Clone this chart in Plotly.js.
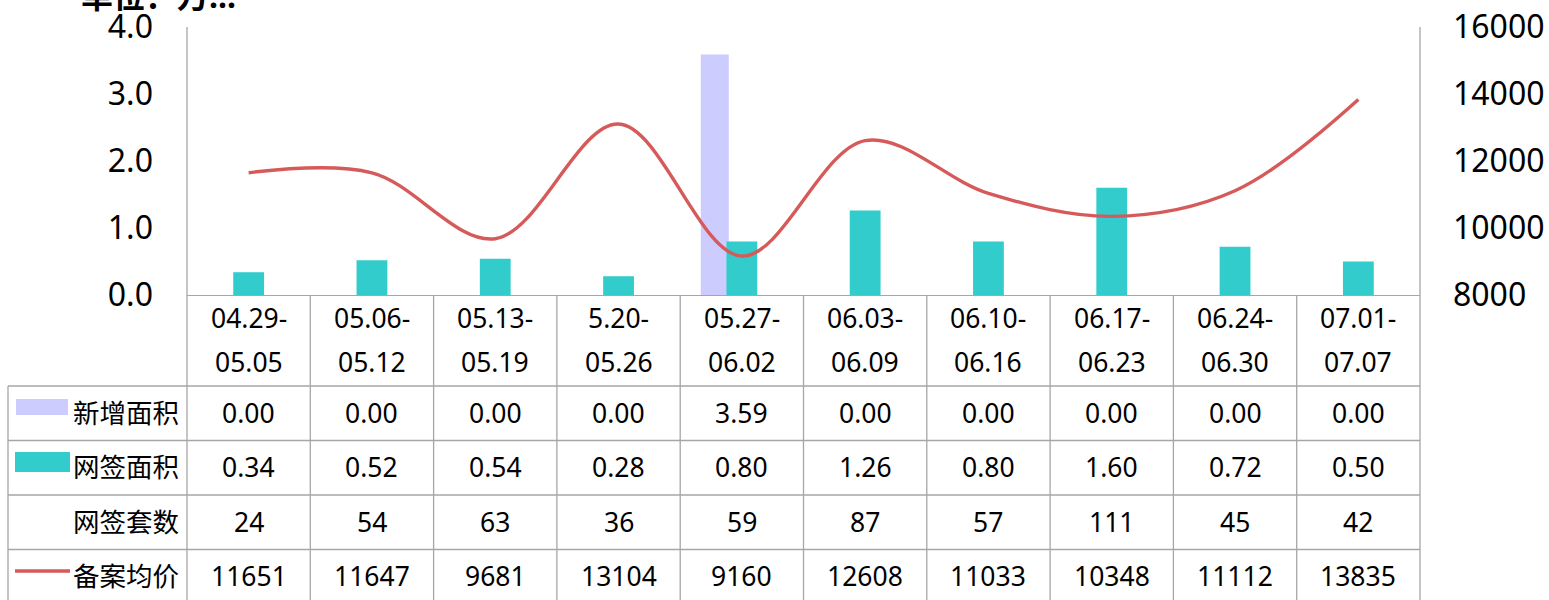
<!DOCTYPE html>
<html>
<head>
<meta charset="utf-8">
<script src="https://cdn.plot.ly/plotly-3.0.1.min.js"></script>
<style>html,body{margin:0;padding:0;background:#fff;}#chart{width:1549px;height:600px;}</style>
</head>
<body>
<div id="chart"></div>
<script>
const categories = ['04.29-05.05','05.06-05.12','05.13-05.19','5.20-05.26','05.27-06.02','06.03-06.09','06.10-06.16','06.17-06.23','06.24-06.30','07.01-07.07'];
const seriesNames = ['新增面积','网签面积','网签套数','备案均价'];
const newArea = [0.00,0.00,0.00,0.00,3.59,0.00,0.00,0.00,0.00,0.00];
const signArea = [0.34,0.52,0.54,0.28,0.80,1.26,0.80,1.60,0.72,0.50];
const signCount = [24,54,63,36,59,87,57,111,45,42];
const avgPrice = [11651,11647,9681,13104,9160,12608,11033,10348,11112,13835];
const leftTicks = [0,1,2,3,4];
const rightTicks = [8000,10000,12000,14000,16000];
const titleText = '单位：万...';

const W = 1549, H = 600;
const L = 187, R = 1420, T = 27, B = 295;
const px = p => (p - L) / (R - L);
const py = p => (B - p) / (B - T);
const FONT = 'Noto Sans, Noto Sans CJK SC, sans-serif';
const GRID = '#A6A6A6';
const TS = 26.5;

const traces = [
  {type:'bar', x:categories, y:newArea, name:seriesNames[0], marker:{color:'#CCCCFF'},
   width:0.227, offset:-0.333, yaxis:'y', hoverinfo:'skip'},
  {type:'bar', x:categories, y:signArea, name:seriesNames[1], marker:{color:'#33CCCC'},
   width:0.25, offset:-0.125, yaxis:'y', hoverinfo:'skip'},
  {type:'scatter', mode:'lines', x:categories, y:avgPrice, name:seriesNames[3], yaxis:'y2',
   line:{color:'#D65A5A', width:3.4, shape:'spline', smoothing:1}, hoverinfo:'skip'}
];

const annotations = [];
const shapes = [];

// title
annotations.push({text:'<b>'+titleText+'</b>', xref:'paper', yref:'paper', x:px(79), y:py(-4),
  xanchor:'left', yanchor:'middle', showarrow:false, font:{family:FONT, size:32, color:'#000'}});

// header labels (two lines)
categories.forEach(c => {
  const parts = c.split('-');
  annotations.push({text:parts[0]+'-', xref:'x', yref:'paper', x:c, y:py(318), xanchor:'center', yanchor:'middle',
    showarrow:false, font:{family:FONT, size:TS, color:'#000'}});
  annotations.push({text:parts[1], xref:'x', yref:'paper', x:c, y:py(362), xanchor:'center', yanchor:'middle',
    showarrow:false, font:{family:FONT, size:TS, color:'#000'}});
});

// table rows
const rowY = [413, 467.5, 522, 576];
const rowVals = [newArea.map(v=>v.toFixed(2)), signArea.map(v=>v.toFixed(2)), signCount.map(String), avgPrice.map(String)];
rowVals.forEach((vals, r) => {
  annotations.push({text:seriesNames[r], xref:'paper', yref:'paper', x:px(181), y:py(rowY[r]), xanchor:'right', yanchor:'middle',
    showarrow:false, font:{family:FONT, size:TS, color:'#000'}});
  vals.forEach((v, i) => {
    annotations.push({text:v, xref:'x', yref:'paper', x:categories[i], y:py(rowY[r]), xanchor:'center', yanchor:'middle',
      showarrow:false, font:{family:FONT, size:TS, color:'#000'}});
  });
});

// grid lines
const line = (x0,y0,x1,y1) => shapes.push({type:'line', xref:'paper', yref:'paper', x0:px(x0), y0:py(y0), x1:px(x1), y1:py(y1),
  line:{color:GRID, width:1.3}});
for (let i = 0; i <= categories.length; i++) {
  const xp = L + i * (R - L) / categories.length;
  line(xp, B, xp, H + 5);
}
line(L, T, L, B);
line(R, T, R, B);
[386, 440.5, 495, 549.5].forEach(y => line(8, y, R, y));
line(8, 386, 8, H + 5);

// legend keys
shapes.push({type:'rect', xref:'paper', yref:'paper', x0:px(16), x1:px(68), y0:py(399), y1:py(415), fillcolor:'#CCCCFF', line:{width:0}});
shapes.push({type:'rect', xref:'paper', yref:'paper', x0:px(15), x1:px(70), y0:py(452), y1:py(472), fillcolor:'#33CCCC', line:{width:0}});
shapes.push({type:'line', xref:'paper', yref:'paper', x0:px(15), x1:px(70), y0:py(571), y1:py(571), line:{color:'#D65A5A', width:3.4}});

const layout = {
  width:W, height:H, margin:{l:L, r:W-R, t:T, b:H-B, pad:0},
  paper_bgcolor:'#fff', plot_bgcolor:'rgba(0,0,0,0)',
  showlegend:false, barmode:'overlay',
  font:{family:FONT, size:TS, color:'#000'},
  xaxis:{type:'category', range:[-0.5, categories.length-0.5], showticklabels:false, ticks:'',
    showgrid:false, zeroline:false, showline:true, linecolor:GRID, linewidth:1.3, fixedrange:true},
  yaxis:{range:[0,4], tickvals:leftTicks, ticktext:leftTicks.map(v=>v.toFixed(1)), showgrid:false, zeroline:false,
    showline:false, ticks:'', ticklabelstandoff:33, tickfont:{family:FONT, size:32, color:'#000'}},
  yaxis2:{range:[8000,16000], tickvals:rightTicks, ticktext:rightTicks.map(String), overlaying:'y', side:'right',
    showgrid:false, zeroline:false, showline:false, ticks:'', ticklabelstandoff:32, tickfont:{family:FONT, size:32, color:'#000'}},
  annotations:annotations, shapes:shapes
};

Plotly.newPlot('chart', traces, layout, {displayModeBar:false, staticPlot:true});
</script>
</body>
</html>
